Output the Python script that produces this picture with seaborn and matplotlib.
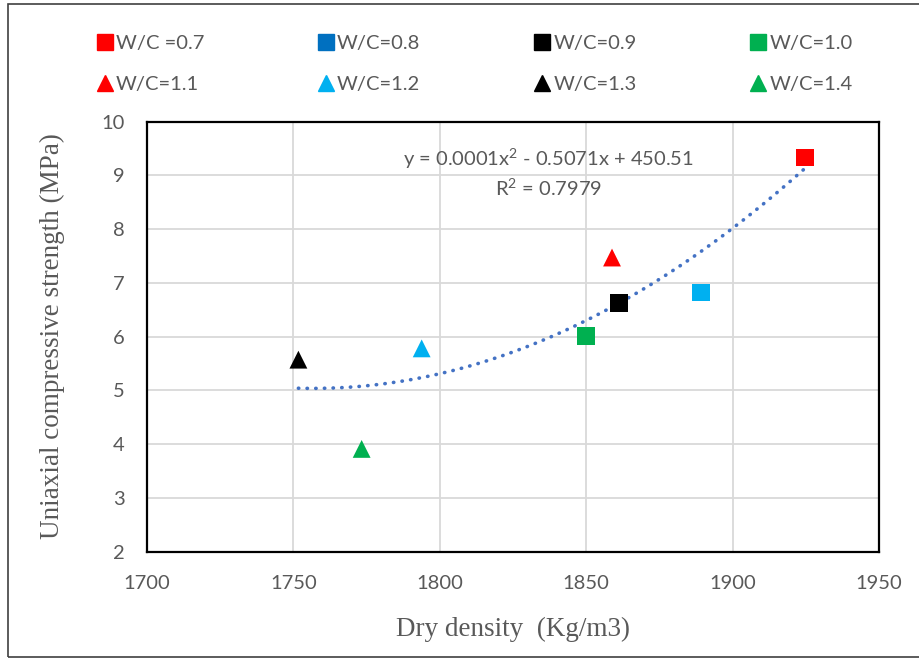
import numpy as np
import pandas as pd
import matplotlib.pyplot as plt
import seaborn as sns
from matplotlib.lines import Line2D

# W/C ratio groups, dry density (Kg/m3) and UCS (MPa)
labels = ['W/C =0.7', 'W/C=0.8', 'W/C=0.9', 'W/C=1.0',
          'W/C=1.1', 'W/C=1.2', 'W/C=1.3', 'W/C=1.4']
density = [1924.8, 1861.1, 1861.1, 1850.0, 1858.8, 1889.1, 1751.7, 1773.3]
strength = [9.33, 6.63, 6.63, 6.01, 7.47, 6.82, 5.57, 3.91]
density_tri = [1793.8]
strength_tri = [5.78]
colors = ['#FF0000', '#0070C0', '#000000', '#00B050',
          '#FF0000', '#00B0F0', '#000000', '#00B050']
markers = ['s', 's', 's', 's', '^', '^', '^', '^']

# the W/C=1.2 group has two points (square + triangle)
df = pd.DataFrame({'label': labels + ['W/C=1.2 '],
                   'x': density + density_tri,
                   'y': strength + strength_tri})
df['marker'] = markers + ['^']
df.loc[5, 'marker'] = 's'
pal = dict(zip(labels, colors))
pal['W/C=1.2 '] = '#00B0F0'

sns.set_theme(style='whitegrid')
plt.rcParams['font.family'] = ['Lato', 'DejaVu Sans']
plt.rcParams['mathtext.fontset'] = 'custom'
plt.rcParams['mathtext.rm'] = 'Lato'
plt.rcParams['mathtext.it'] = 'Lato'
grey = '#595959'

fig = plt.figure(figsize=(9.2, 6.59), dpi=100)
ax = fig.add_axes([0.1598, 0.163, 0.7957, 0.6526])

# quadratic trendline fitted to the points
coef = np.polyfit(df['x'], df['y'], 2)
xs = np.linspace(df['x'].min(), df['x'].max(), 200)
ax.plot(xs, np.polyval(coef, xs), color='#4472C4', lw=2.6,
        linestyle=(0, (0.1, 2.3)), dash_capstyle='round', zorder=3)

for mk in ['s', '^']:
    sub = df[df['marker'] == mk]
    sns.scatterplot(data=sub, x='x', y='y', hue='label', palette=pal,
                    marker=mk, s=165, linewidth=0, legend=False, ax=ax, zorder=4)

ax.set_xlim(1700, 1950)
ax.set_ylim(2, 10)
ax.set_xticks(range(1700, 1951, 50))
ax.set_yticks(range(2, 11))
ax.grid(color='#d9d9d9', lw=1.3)
for s in ax.spines.values():
    s.set_color('black')
    s.set_linewidth(1.6)
ax.tick_params(axis='both', labelsize=14.5, colors=grey, length=0)
ax.tick_params(axis='x', pad=17)
ax.tick_params(axis='y', pad=16)
ax.set_xlabel('Dry density  (Kg/m3)', family='Liberation Serif', fontsize=19.5,
              color=grey, labelpad=18)
ax.set_ylabel('Uniaxial compressive strength (MPa)', family='Liberation Serif',
              fontsize=19.5, color=grey, labelpad=26)

ax.text(1837, 9.3, r'y = 0.0001x$^{\mathregular{2}}$ - 0.5071x + 450.51', ha='center',
        va='center', fontsize=14.5, color=grey)
ax.text(1837, 8.76, r'R$^{\mathregular{2}}$ = 0.7979', ha='center', va='center',
        fontsize=14.5, color=grey)

# legend, row-wise order
order = [0, 4, 1, 5, 2, 6, 3, 7]
handles = [Line2D([], [], ls='', marker=markers[i], color=colors[i], markersize=11,
                  label=labels[i]) for i in order]
fig.legend(handles=handles, ncol=4, loc='upper left', bbox_to_anchor=(0.083, 0.974),
           frameon=False, fontsize=14.5, labelcolor=grey, handletextpad=0.05,
           columnspacing=5.55, labelspacing=1.18, handlelength=1.0)

# chart area border
fig.add_artist(plt.Rectangle((8 / 920, 2 / 659), 1.2, 653 / 659, transform=fig.transFigure,
                             fill=False, edgecolor='#404040', lw=1.2))

fig.savefig('out.png', dpi=100)
